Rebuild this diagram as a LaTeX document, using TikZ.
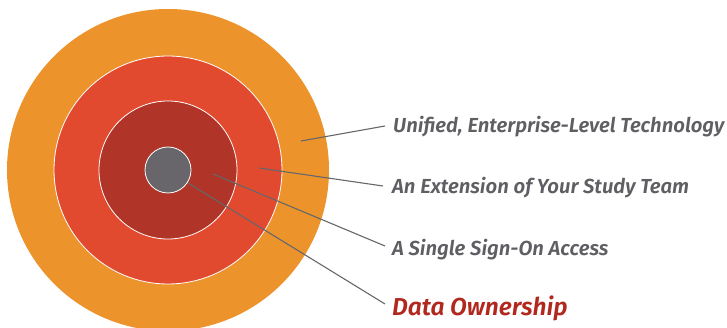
\documentclass[tikz,border=0pt]{standalone}
\usepackage{fontspec}
\setmainfont{Fira Sans}[BoldItalicFont={Fira Sans SemiBold Italic}]
\usetikzlibrary{calc}
\definecolor{ringorange}{HTML}{EC932C}
\definecolor{ringred}{HTML}{E24A30}
\definecolor{ringdark}{HTML}{B03428}
\definecolor{coregray}{HTML}{68656B}
\definecolor{labelgray}{HTML}{5F5E63}
\definecolor{labelred}{HTML}{B0281E}
\definecolor{leadergray}{HTML}{66676B}
\begin{document}
\begin{tikzpicture}[x=1pt,y=-1pt,
  ring/.style={circle,inner sep=0pt,outer sep=0pt},
  label/.style={anchor=base west,inner sep=0pt,font=\fontsize{20.3}{23}\selectfont\bfseries\itshape,text=labelgray},
  leader/.style={draw=leadergray,line width=1.1pt}]
\useasboundingbox (0,0) rectangle (727,328);
\clip (0,0) rectangle (727,328);
\node[ring,fill=ringorange,minimum size=322pt] (outer) at (168,170) {};
\node[ring,fill=ringred,draw=white,line width=0.8pt,minimum size=228pt] (mid) at (168,170) {};
\node[ring,fill=ringdark,draw=white,line width=0.8pt,minimum size=138pt] (inner) at (168,170) {};
\node[ring,fill=coregray,draw=white,line width=0.8pt,minimum size=46pt] (core) at (168,170) {};

\node[label] (t1) at (393,133) {Unified, Enterprise-Level Technology};
\node[label] (t2) at (392,194) {An Extension of Your Study Team};
\node[label] (t3) at (392,255) {A Single Sign-On Access};
\node[label,text=labelred,font=\fontsize{24.5}{28}\selectfont\bfseries\itshape] (t4) at (392,315) {Data Ownership};

\coordinate (p1) at (301,141);
\coordinate (p2) at (259,168);
\coordinate (p3) at (213,174);
\coordinate (p4) at (188,183);
\coordinate (e1) at (385,126);
\coordinate (e2) at (383,186);
\coordinate (e3) at (385,246);
\coordinate (e4) at (385,304);
\draw[leader] (p1) -- (e1);
\draw[leader] (p2) -- (e2);
\draw[leader] (p3) -- (e3);
\draw[leader] (p4) -- (e4);
\end{tikzpicture}
\end{document}
